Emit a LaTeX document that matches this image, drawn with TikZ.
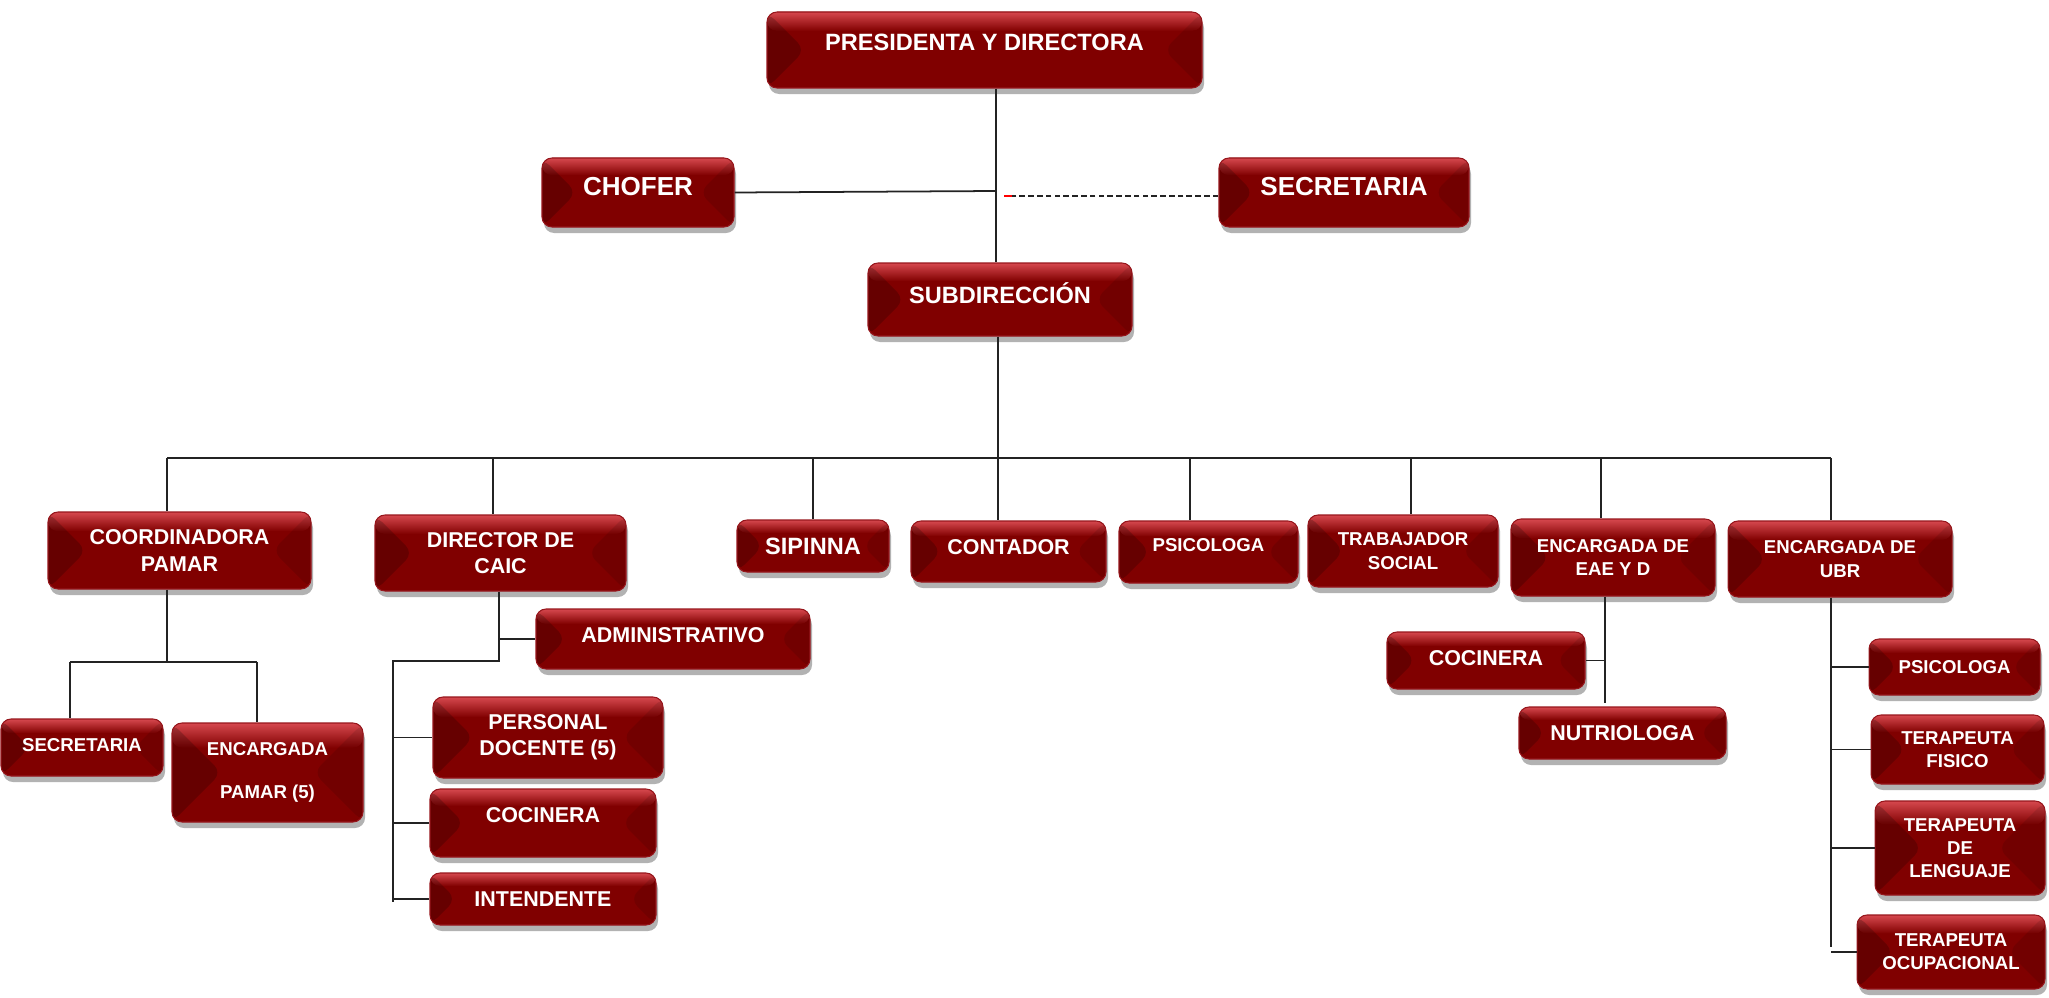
\documentclass[tikz,border=0pt]{standalone}
\usepackage{fontspec}
\setmainfont{Liberation Sans}
\usepackage{tikz}
\usetikzlibrary{shadows,calc}
\definecolor{bred}{RGB}{128,0,0}
\definecolor{bhigh}{RGB}{214,72,78}
\definecolor{bedge}{RGB}{150,22,28}
\definecolor{lline}{RGB}{35,35,35}

\tikzset{
  wh/.style 2 args={minimum width=#1*0.01cm,minimum height=#2*0.01cm},
  lift/.style={text depth=#1}
}

\begin{document}
\begin{tikzpicture}[x=0.01cm,y=-0.01cm]
      \tikzstyle{box}=[rounded corners=0.1cm,fill=bred,draw=bedge,line width=0.3pt,text=white,align=center,inner sep=0pt,
        drop shadow={shadow xshift=0.02cm,shadow yshift=-0.06cm,opacity=0.3,fill=black},
        path picture={
          \path (path picture bounding box.north west) coordinate (pnw)
                (path picture bounding box.south east) coordinate (pse);
          \shade[top color=bhigh,bottom color=bred] let \p1=(pnw), \p2=(pse) in
            (\p1) rectangle (\x2,{\y1-0.25*(\y1-\y2)});
          \fill[black,fill opacity=0.2] let \p1=(pnw), \p2=(pse), \n1={0.5*(\y1-\y2)} in
            (\p1) -- ({\x1+\n1},{\y1-\n1}) -- (\x1,\y2) -- cycle;
          \fill[black,fill opacity=0.1] let \p1=(pnw), \p2=(pse), \n1={0.5*(\y1-\y2)} in
            (\x2,\y1) -- ({\x2-\n1},{\y1-\n1}) -- (\p2) -- cycle;
        }]
      \tikzstyle{fa}=[font=\bfseries\fontsize{7.4}{9}\selectfont]
      \tikzstyle{fb}=[font=\bfseries\fontsize{6.7}{8.2}\selectfont]
      \tikzstyle{fc}=[font=\bfseries\fontsize{6.1}{7.4}\selectfont]
      \tikzstyle{fd}=[font=\bfseries\fontsize{5.3}{6.6}\selectfont]
      \tikzstyle{wire}=[draw=lline,line width=0.5pt]

      \useasboundingbox (0,0) rectangle (2049,997);

      \node[box,fb,wh={435}{76},lift=0.16cm]  (pres)  at (984.5,50)   {PRESIDENTA Y DIRECTORA};
      \node[box,fa,wh={192}{69},lift=0.12cm]  (chof)  at (638,192.5)  {CHOFER};
      \node[box,fa,wh={250}{69},lift=0.12cm]  (secr)  at (1344,192.5) {SECRETARIA};
      \node[box,fb,wh={264}{73},lift=0.13cm]  (subd)  at (1000,299.5) {SUBDIRECCIÓN};

      \node[box,fc,wh={263}{77}]              (coord) at (179.5,550.5) {COORDINADORA\\PAMAR};
      \node[box,fc,wh={251}{76}]              (caic)  at (500.5,553)   {DIRECTOR DE\\CAIC};
      \node[box,fb,wh={152}{52}]              (sip)   at (813,546)     {SIPINNA};
      \node[box,fc,wh={195}{61},lift=0.08cm]  (cont)  at (1008.5,551.5) {CONTADOR};
      \node[box,fd,wh={179}{62},lift=0.14cm]  (psi)   at (1208.5,552)  {PSICOLOGA};
      \node[box,fd,wh={190}{72}]              (trab)  at (1403,551)    {TRABAJADOR\\SOCIAL};
      \node[box,fd,wh={204}{77}]              (eae)   at (1613,557.5)  {ENCARGADA DE\\EAE Y D};
      \node[box,fd,wh={224}{76}]              (ubr)   at (1840,559)    {ENCARGADA DE\\UBR};

      \node[box,fd,wh={162}{57},lift=0.05cm]  (secp)  at (82,747.5)    {SECRETARIA};
      \node[box,fd,wh={191}{99}]              (encp)  at (267.5,772.5) {ENCARGADA\\[5.6pt]PAMAR (5)};

      \node[box,fc,wh={274}{60},lift=0.08cm]  (adm)   at (673,639)     {ADMINISTRATIVO};
      \node[box,fc,wh={230}{81}]              (doc)   at (548,737.5)   {PERSONAL\\DOCENTE (5)};
      \node[box,fc,wh={226}{68},lift=0.16cm]  (cocc)  at (543,823)     {COCINERA};
      \node[box,fc,wh={226}{52}]              (intd)  at (543,899)     {INTENDENTE};

      \node[box,fc,wh={198}{57},lift=0.04cm]  (coce)  at (1486,660.5)  {COCINERA};
      \node[box,fc,wh={207}{52}]              (nutr)  at (1622.5,733)  {NUTRIOLOGA};

      \node[box,fd,wh={171}{56}]              (upsi)  at (1954.5,667)  {PSICOLOGA};
      \node[box,fd,wh={173}{69}]              (tfis)  at (1957.5,749.5) {TERAPEUTA\\FISICO};
      \node[box,fd,wh={170}{94}]              (tlen)  at (1960,848)    {TERAPEUTA\\DE\\LENGUAJE};
      \node[box,fd,wh={188}{74}]              (tocu)  at (1951,952)    {TERAPEUTA\\OCUPACIONAL};

      \coordinate (jc) at (996,191);
      \coordinate (js) at (1004,196);
      \draw[wire] (pres.south -| jc) -- (subd.north -| jc);
      \draw[wire] (chof.east) -- (jc);
      \draw[wire,dash pattern=on 1.6pt off 0.9pt] (js -| secr.west) -- (js);
      \draw[red,line width=0.6pt] (js) -- ++(8,0);

      \coordinate (bl) at (167,458);
      \coordinate (br) at (1831,458);
      \coordinate (bc) at (998,458);
      \draw[wire] (bl) -- (br);
      \draw[wire] (subd.south -| bc) -- (bc |- cont.north);
      \foreach \n/\x in {coord/167,caic/493,sip/813,psi/1190,trab/1411,eae/1601,ubr/1831}
        {\coordinate (d\n) at (\x,458);
         \draw[wire] (d\n) -- (d\n |- \n.north);}

      \coordinate (pj) at (167,662);
      \coordinate (pl) at (70,662);
      \coordinate (pr) at (257,662);
      \draw[wire] (coord.south -| pj) -- (pj);
      \draw[wire] (pl) -- (pr);
      \draw[wire] (pl) -- (pl |- secp.north);
      \draw[wire] (pr) -- (pr |- encp.north);

      \coordinate (cj) at (499,661);
      \coordinate (cl) at (393,661);
      \coordinate (cb) at (393,902);
      \draw[wire] (caic.south -| cj) -- (cj) -- (cl) -- (cb);
      \draw[wire] (cj |- adm.west) -- (adm.west);
      \foreach \n in {doc,cocc,intd}
        \draw[wire] (cl |- \n.west) -- (\n.west);

      \coordinate (ej) at (1605,703);
      \draw[wire] (eae.south -| ej) -- (ej);
      \draw[wire] (ej |- coce.east) -- (coce.east);

      \coordinate (uj) at (1831,947);
      \draw[wire] (ubr.south -| uj) -- (uj);
      \foreach \n in {upsi,tfis,tlen,tocu}
        \draw[wire] (uj |- \n.west) -- (\n.west);

  \end{tikzpicture}
\end{document}
